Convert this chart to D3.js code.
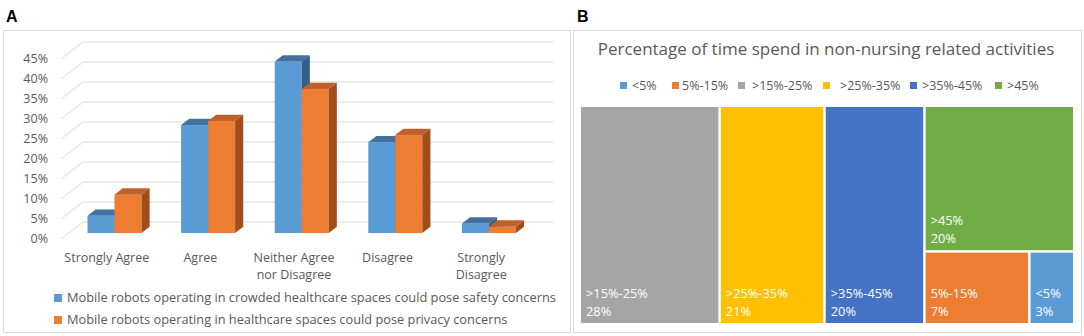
<!DOCTYPE html>
<html><head><meta charset="utf-8">
<script src="https://cdn.jsdelivr.net/npm/d3@7"></script>
<style>body{margin:0;background:#fff}svg{display:block}text{font-family:'Open Sans',sans-serif}</style>
</head><body><svg id="c" width="1084" height="336"></svg>
<script>
// ---- Panel A data ----
const categories = ["Strongly Agree","Agree","Neither Agree nor Disagree","Disagree","Strongly Disagree"];
const categoryLines = [["Strongly Agree"],["Agree"],["Neither Agree","nor Disagree"],["Disagree"],["Strongly","Disagree"]];
const seriesNames = ["Mobile robots operating in crowded healthcare spaces could pose safety concerns",
                     "Mobile robots operating in healthcare spaces could pose privacy concerns"];
const safetyValues  = [0.043, 0.27, 0.429, 0.227, 0.024];
const privacyValues = [0.096, 0.28, 0.36, 0.245, 0.016];
const yTicks = [0,0.05,0.10,0.15,0.20,0.25,0.30,0.35,0.40,0.45];
// ---- Panel B data ----
const treemapTitle = "Percentage of time spend in non-nursing related activities";
const treemapNames  = ["<5%","5%-15%",">15%-25%",">25%-35%",">35%-45%",">45%"];
const treemapValues = [3, 7, 28, 21, 20, 20];
const treemapColors = ["#5b9bd5","#ed7d31","#a5a5a5","#ffc000","#4472c4","#70ad47"];

const svg = d3.select("#c");
const grey = "#595959";

// ===== Panel A =====
svg.append("text").attr("x",6).attr("y",22).text("A")
  .style("font-family","'Liberation Sans',Arial,sans-serif").style("font-weight","bold").style("font-size","16px");
svg.append("rect").attr("x",3.5).attr("y",30.5).attr("width",567).attr("height",302)
  .attr("fill","none").attr("stroke","#d9d9d9");

const y = d3.scaleLinear().domain([0,0.45]).range([239,59]);
const wall = {dx:22, dy:-17};
const gA = svg.append("g");
yTicks.forEach(t=>{
  const yy = y(t);
  gA.append("path").attr("d",`M61,${yy}L${61+wall.dx},${yy+wall.dy}L553,${yy+wall.dy}`)
    .attr("fill","none").attr("stroke","#d9d9d9").attr("stroke-width",1);
  gA.append("text").attr("x",48).attr("y",yy).attr("dy","0.35em").attr("text-anchor","end")
    .attr("fill",grey).style("font-size","12.5px").text(d3.format(".0%")(t));
});

const x0 = d3.scaleBand().domain(categories).range([60,528]);
const pairW = 54;
const x1 = d3.scaleBand().domain([0,1]).range([0,pairW]);
const f0 = 0.35, f1 = 0.72;
const off = {dx: wall.dx*f0, dy: wall.dy*f0};
const dep = {dx: wall.dx*(f1-f0), dy: wall.dy*(f1-f0)};
const seriesVals = [safetyValues, privacyValues];
const faceCols = [
  {front:"#5b9bd5", top:"#41719c", side:"#335f8a"},
  {front:"#ed7d31", top:"#c0602a", side:"#9e4e1c"}
];
categories.forEach((c,ci)=>{
  [0,1].forEach(si=>{
    const v = seriesVals[si][ci];
    const x = x0(c) + x0.bandwidth()/2 - pairW/2 + x1(si) + off.dx;
    const w = x1.bandwidth();
    const yt = y(v) + off.dy, yb = y(0) + off.dy;
    const col = faceCols[si];
    gA.append("rect").attr("x",x).attr("y",yt).attr("width",w).attr("height",yb-yt).attr("fill",col.front);
    gA.append("path").attr("d",`M${x},${yt}L${x+w},${yt}L${x+w+dep.dx},${yt+dep.dy}L${x+dep.dx},${yt+dep.dy}Z`).attr("fill",col.top);
    gA.append("path").attr("d",`M${x+w},${yt}L${x+w+dep.dx},${yt+dep.dy}L${x+w+dep.dx},${yb+dep.dy}L${x+w},${yb}Z`).attr("fill",col.side);
  });
  const cx = x0(c) + x0.bandwidth()/2;
  categoryLines[ci].forEach((ln,li)=>{
    gA.append("text").attr("x",cx).attr("y",262+li*17).attr("text-anchor","middle")
      .attr("fill",grey).style("font-size","12.5px").text(ln);
  });
});
seriesNames.forEach((n,i)=>{
  const yy = 298 + i*22;
  gA.append("rect").attr("x",54).attr("y",yy-4).attr("width",8).attr("height",8).attr("fill",faceCols[i].front);
  gA.append("text").attr("x",67).attr("y",yy).attr("dy","0.35em").attr("fill",grey)
    .style("font-size","12.8px").text(n);
});

// ===== Panel B =====
svg.append("text").attr("x",577).attr("y",22).text("B")
  .style("font-family","'Liberation Sans',Arial,sans-serif").style("font-weight","bold").style("font-size","16px");
svg.append("rect").attr("x",573.5).attr("y",30.5).attr("width",508).attr("height",302)
  .attr("fill","none").attr("stroke","#d9d9d9");
svg.append("text").attr("x",826).attr("y",49).attr("dy","0.35em").attr("text-anchor","middle")
  .attr("fill",grey).style("font-size","17px").text(treemapTitle);

const legSq = [620,672,738,823,910,995];
const legTx = [632,682,752,840,922,1007];
treemapNames.forEach((n,i)=>{
  svg.append("rect").attr("x",legSq[i]).attr("y",82).attr("width",7).attr("height",7).attr("fill",treemapColors[i]);
  svg.append("text").attr("x",legTx[i]).attr("y",85.5).attr("dy","0.35em").attr("fill",grey)
    .style("font-size","12.5px").text(n);
});

const idx = n => treemapNames.indexOf(n);
const leaf = n => ({name:n, value:treemapValues[idx(n)]});
const treeData = {children:[leaf(">15%-25%"), leaf(">25%-35%"), leaf(">35%-45%"),
  {children:[leaf(">45%"), {children:[leaf("5%-15%"), leaf("<5%")]}]}]};
const root = d3.hierarchy(treeData).sum(d=>d.value||0);
d3.treemap().tile(d3.treemapSliceDice).size([492,216]).paddingInner(2.5).round(false)(root);
const gB = svg.append("g").attr("transform","translate(581,107)");
root.leaves().forEach(l=>{
  const i = idx(l.data.name);
  gB.append("rect").attr("x",l.x0).attr("y",l.y0).attr("width",l.x1-l.x0).attr("height",l.y1-l.y0)
    .attr("fill",treemapColors[i]);
  gB.append("text").attr("x",l.x0+5).attr("y",l.y1-25).attr("fill","#fff").style("font-size","12.8px").text(l.data.name);
  gB.append("text").attr("x",l.x0+5).attr("y",l.y1-7).attr("fill","#fff").style("font-size","12.8px")
    .text(Math.round(l.value)+"%");
});
</script></body></html>
